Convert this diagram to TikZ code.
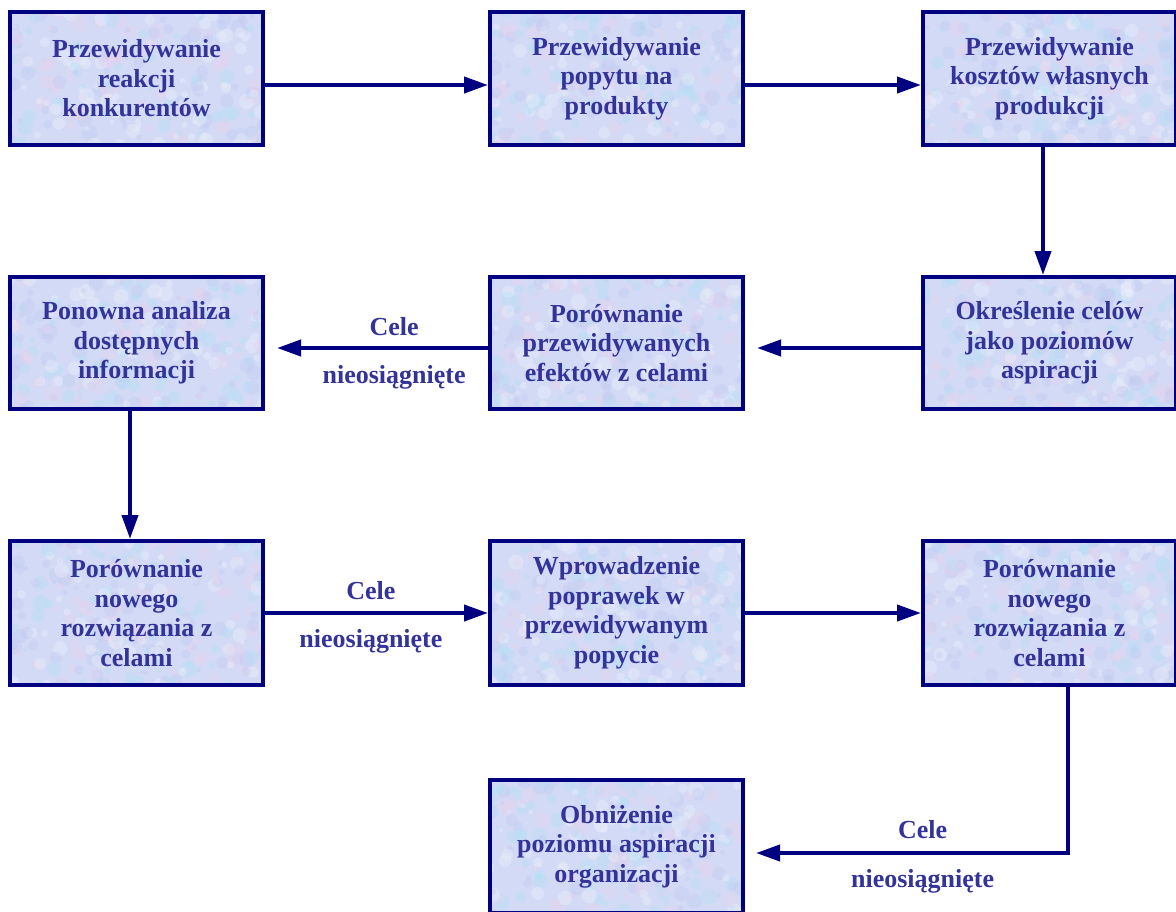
\documentclass[tikz,border=0pt]{standalone}
\usepackage{fontspec}
\setmainfont{Liberation Serif}
\usetikzlibrary{arrows.meta,calc}

\definecolor{navyline}{RGB}{0,0,128}
\definecolor{textblue}{RGB}{51,51,153}
\definecolor{boxbase}{RGB}{210,218,245}
\definecolor{mottle0}{RGB}{178,226,246}
\definecolor{mottle1}{RGB}{232,210,238}
\definecolor{mottle2}{RGB}{192,202,240}
\definecolor{mottle3}{RGB}{240,242,252}

\tikzset{
  mottled/.style={
    path picture={
      \foreach \k in {1,...,320}{
        \pgfmathsetmacro{\px}{rand*135}
        \pgfmathsetmacro{\py}{rand*80}
        \pgfmathsetmacro{\rr}{2+6*rnd}
        \pgfmathtruncatemacro{\cc}{int(3.999*rnd)}
        \fill[mottle\cc, opacity=0.35]
          ($(path picture bounding box.center)+(\px pt,\py pt)$) circle (\rr pt);
      }
    }
  },
  stepbox/.style={
    draw=navyline, line width=4pt, fill=boxbase, mottled,
    minimum width=253pt, inner sep=0pt, align=center,
    text=textblue, font=\fontsize{26}{29.5}\selectfont\bfseries
  },
  flow/.style={
    draw=navyline, line width=4pt,
    -{Triangle[length=24pt,width=16pt]}
  },
  flowlabel/.style={
    text=textblue, font=\fontsize{26}{29.5}\selectfont\bfseries,
    inner sep=0pt, anchor=base
  }
}

\begin{document}
\begin{tikzpicture}[x=1pt,y=-1pt]
\pgfmathsetseed{4711}
\useasboundingbox (0,0) rectangle (1176,911);
\clip (0,0) rectangle (1176,911);

% first row: forecasts
\node[stepbox, minimum height=133pt] (p1) at (136.5,78.5) {Przewidywanie\\reakcji\\konkurentów};
\node[stepbox, minimum height=133pt] (p2) at (616.5,78.5) {Przewidywanie\\popytu na\\produkty};
\node[stepbox, minimum height=133pt] (p3) at (1049.5,78.5) {Przewidywanie\\kosztów własnych\\produkcji};

% second row
\node[stepbox, minimum height=132pt] (q1) at (136.5,343) {Ponowna analiza\\dostępnych\\informacji};
\node[stepbox, minimum height=132pt] (q2) at (616.5,343) {Porównanie\\przewidywanych\\efektów z celami};
\node[stepbox, minimum height=132pt] (q3) at (1049.5,343) {Określenie celów\\jako poziomów\\aspiracji};

% third row
\node[stepbox, minimum height=144pt] (r1) at (136.5,613) {Porównanie\\nowego\\rozwiązania z\\celami};
\node[stepbox, minimum height=144pt] (r2) at (616.5,613) {Wprowadzenie\\poprawek w\\przewidywanym\\popycie};
\node[stepbox, minimum height=144pt] (r3) at (1049.5,613) {Porównanie\\nowego\\rozwiązania z\\celami};

% last step
\node[stepbox, minimum height=133pt] (s2) at (616.5,846.5) {Obniżenie\\poziomu aspiracji\\organizacji};

% connectors
\draw[flow] ([yshift=-6.5pt]p1.east) -- ([yshift=-6.5pt]p2.west);
\draw[flow] ([yshift=-6.5pt]p2.east) -- ([yshift=-6.5pt]p3.west);
\draw[flow] ([xshift=-6.5pt]p3.south) -- ([xshift=-6.5pt]q3.north);
\draw[flow] ([yshift=-5pt]q3.west) -- ([xshift=12pt,yshift=-5pt]q2.east);
\draw[flow] ([yshift=-5pt]q2.west) -- ([xshift=12pt,yshift=-5pt]q1.east)
  node[flowlabel, pos=0.445, yshift=13pt] (c1) {Cele}
  node[flowlabel, pos=0.445, yshift=-35pt] (n1) {nieosiągnięte};
\draw[flow] ([xshift=-6.5pt]q1.south) -- ([xshift=-6.5pt]r1.north);
\draw[flow] (r1.east) -- (r2.west)
  node[flowlabel, pos=0.475, yshift=14pt] (c2) {Cele}
  node[flowlabel, pos=0.475, yshift=-34pt] (n2) {nieosiągnięte};
\draw[flow] (r2.east) -- (r3.west);
\draw[flow] ([xshift=18.5pt]r3.south) |- ([xshift=11pt,yshift=-6.5pt]s2.east)
  node[flowlabel, pos=0.733, yshift=15pt] (c3) {Cele}
  node[flowlabel, pos=0.733, yshift=-34pt] (n3) {nieosiągnięte};
\end{tikzpicture}
\end{document}
